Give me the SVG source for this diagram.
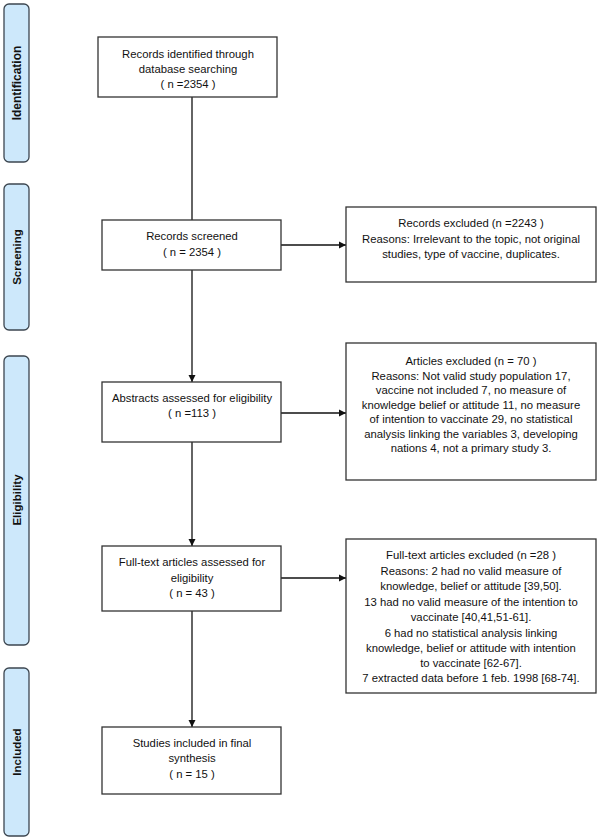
<svg xmlns="http://www.w3.org/2000/svg" width="600" height="840" viewBox="0 0 600 840">
<style>
.bg{fill:#ffffff}
.bar{fill:#cde8fb;stroke:#3c4650;stroke-width:1.3}
.lbl{font-family:"Liberation Sans",Arial,sans-serif;font-weight:bold;font-size:12px;fill:#111;text-anchor:middle}
.box{fill:#ffffff;stroke:#333;stroke-width:1.3}
.t{font-family:"Liberation Sans",Arial,sans-serif;font-size:11.3px;fill:#111;text-anchor:middle}
.c{stroke:#111;stroke-width:1.3;fill:none}
</style>
<defs>
<marker id="ah" markerWidth="8" markerHeight="8" refX="7" refY="4" orient="auto" markerUnits="userSpaceOnUse">
<path d="M0,0.5 L7,4 L0,7.5 Z" fill="#111"/>
</marker>
</defs>
<rect class="bg" x="0" y="0" width="600" height="840"/>

<g id="phase-identification">
<rect class="bar" x="4" y="4" width="25" height="158" rx="5"/>
<text class="lbl" transform="translate(21,83) rotate(-90)">Identification</text>
</g>
<g id="phase-screening">
<rect class="bar" x="4" y="184" width="25" height="146" rx="5"/>
<text class="lbl" transform="translate(21,257) rotate(-90)" style="font-size:11.5px">Screening</text>
</g>
<g id="phase-eligibility">
<rect class="bar" x="4" y="356" width="25" height="289" rx="5"/>
<text class="lbl" transform="translate(21,500) rotate(-90)" style="font-size:11.5px">Eligibility</text>
</g>
<g id="phase-included">
<rect class="bar" x="4" y="668" width="25" height="168" rx="5"/>
<text class="lbl" transform="translate(21,752) rotate(-90)" style="font-size:11.5px">Included</text>
</g>

<g id="connectors">
<line class="c" x1="192" y1="97" x2="192" y2="220"/>
<line class="c" x1="192" y1="270" x2="192" y2="382" marker-end="url(#ah)"/>
<line class="c" x1="192" y1="442" x2="192" y2="546" marker-end="url(#ah)"/>
<line class="c" x1="192" y1="611" x2="192" y2="727" marker-end="url(#ah)"/>
<line class="c" x1="281" y1="245" x2="346" y2="245" marker-end="url(#ah)"/>
<line class="c" x1="281" y1="413" x2="346" y2="413" marker-end="url(#ah)"/>
<line class="c" x1="281" y1="578" x2="346" y2="578" marker-end="url(#ah)"/>
</g>

<g id="records-identified">
<rect class="box" x="98" y="37" width="179" height="60"/>
<text class="t" x="188" y="58">Records identified through</text>
<text class="t" x="188" y="73">database searching</text>
<text class="t" x="188" y="88">( n =2354 )</text>
</g>
<g id="records-screened">
<rect class="box" x="102" y="220" width="179" height="50"/>
<text class="t" x="192" y="240">Records screened</text>
<text class="t" x="192" y="256">( n = 2354 )</text>
</g>
<g id="abstracts-assessed">
<rect class="box" x="102" y="382" width="179" height="60"/>
<text class="t" x="192" y="402">Abstracts assessed for eligibility</text>
<text class="t" x="192" y="417">( n =113  )</text>
</g>
<g id="fulltext-assessed">
<rect class="box" x="102" y="546" width="179" height="65"/>
<text class="t" x="192" y="566">Full-text articles assessed for</text>
<text class="t" x="192" y="582">eligibility</text>
<text class="t" x="192" y="597">( n = 43 )</text>
</g>
<g id="studies-included">
<rect class="box" x="102" y="727" width="179" height="67"/>
<text class="t" x="192" y="747">Studies included in final</text>
<text class="t" x="192" y="762">synthesis</text>
<text class="t" x="192" y="778">( n = 15 )</text>
</g>

<g id="records-excluded">
<rect class="box" x="346" y="207" width="250" height="75"/>
<text class="t" x="471" y="227">Records excluded (n =2243 )</text>
<text class="t" x="471" y="243">Reasons: Irrelevant to the topic, not original</text>
<text class="t" x="471" y="258">studies, type of vaccine, duplicates.</text>
</g>
<g id="articles-excluded">
<rect class="box" x="346" y="343" width="250" height="137"/>
<text class="t" x="471" y="365">Articles excluded (n = 70 )</text>
<text class="t" x="471" y="379.5">Reasons: Not valid study population 17,</text>
<text class="t" x="471" y="394">vaccine not included 7, no measure of</text>
<text class="t" x="471" y="408.5">knowledge belief or attitude 11, no measure</text>
<text class="t" x="471" y="423">of intention to vaccinate 29, no statistical</text>
<text class="t" x="471" y="437.5">analysis linking the variables 3, developing</text>
<text class="t" x="471" y="452">nations 4, not a primary study 3.</text>
</g>
<g id="fulltext-excluded">
<rect class="box" x="346" y="539" width="250" height="154"/>
<text class="t" x="471" y="559">Full-text articles excluded (n =28 )</text>
<text class="t" x="471" y="574.5">Reasons: 2 had no valid measure of</text>
<text class="t" x="471" y="590">knowledge, belief or attitude [39,50].</text>
<text class="t" x="471" y="605.5">13 had no valid measure of the intention to</text>
<text class="t" x="471" y="621">vaccinate [40,41,51-61].</text>
<text class="t" x="471" y="636.5">6 had no statistical analysis linking</text>
<text class="t" x="471" y="652">knowledge, belief or attitude with intention</text>
<text class="t" x="471" y="667">to vaccinate [62-67].</text>
<text class="t" x="471" y="681.5">7 extracted data before 1 feb. 1998 [68-74].</text>
</g>
</svg>
